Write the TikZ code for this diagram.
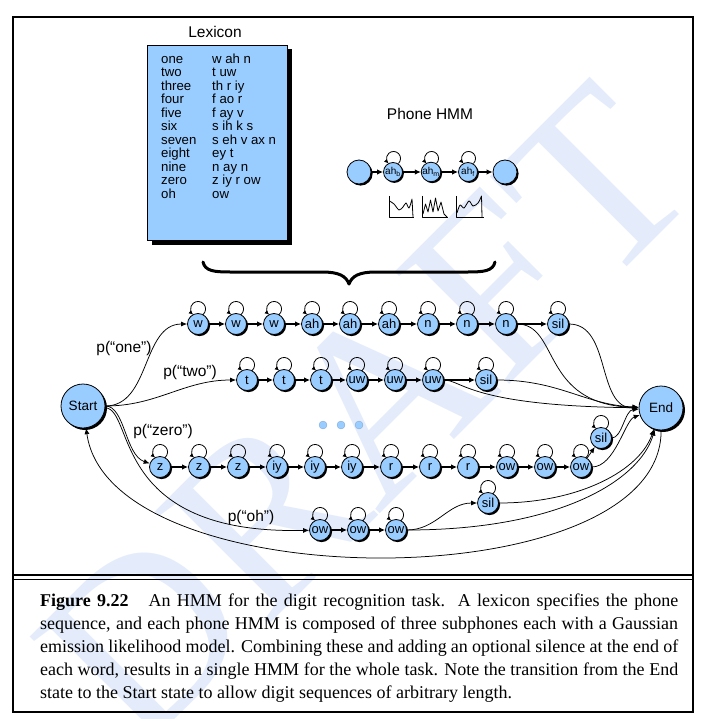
\documentclass[tikz,border=0pt]{standalone}
\usepackage{fontspec}
\setmainfont{Liberation Serif}
\setsansfont{Liberation Sans}
\usetikzlibrary{arrows.meta,shadows}

\definecolor{hmmblue}{RGB}{153,204,255}
\definecolor{draftblue}{RGB}{228,236,251}

\begin{document}
\begin{tikzpicture}[x=1pt,y=1pt,
  every node/.style={inner sep=0pt},
  sf/.style={font=\sffamily\fontsize{#1}{#1}\selectfont},
  blackshadow/.style={drop shadow={shadow xshift=#1,shadow yshift=-#1,opacity=1,fill=black}},
  stbase/.style={circle, draw=black, line width=0.8pt, fill=hmmblue},
  st/.style={stbase, minimum size=21pt, sf=13, blackshadow=1.6pt},
  sub/.style={stbase, minimum size=19pt, sf=10, blackshadow=1.4pt},
  ends/.style={stbase, minimum size=24pt, blackshadow=1.6pt},
  big/.style={stbase, minimum size=44pt, sf=13.5, blackshadow=2pt},
  lbl/.style={sf=15.5},
  lex/.style={sf=13.2, anchor=base west},
  selfloop/.style={-{Latex[length=4.5pt,width=4pt]}, line width=0.8pt},
  chain/.style={-{Latex[length=6pt,width=5.5pt]}, line width=1.5pt},
  link/.style={-{Latex[length=6pt,width=5pt]}, line width=0.75pt},
  icon/.style={line width=0.8pt, line join=round}
]
\useasboundingbox (0,0) rectangle (708,-719);

% watermark
\node[text=draftblue, rotate=45, font=\fontsize{245}{245}\selectfont] (draft) at (365,-415) {DRAFT};

% frame and caption divider
\draw[line width=2pt] (13,-17) rectangle (693,-712);
\draw[line width=2.2pt] (13,-575) -- (693,-575);
\draw[line width=1.2pt] (13,-579.5) -- (693,-579.5);

% ---------- lexicon ----------
\node[sf=15.5] (lextitle) at (215,-32) {Lexicon};
\node[draw=black, line width=1pt, fill=hmmblue, minimum width=140pt, minimum height=195pt,
      anchor=north west, blackshadow=4pt] (lexbox) at (147,-45) {};
\foreach \w/\p [count=\i] in {one/w ah n, two/t uw, three/th r iy, four/f ao r, five/f ay v,
    six/s ih k s, seven/s eh v ax n, eight/ey t, nine/n ay n, zero/z iy r ow, oh/ow} {
  \node[lex] (lw\i) at (161,-63.5-13.5*\i+13.5) {\w};
  \node[lex] (lp\i) at (212,-63.5-13.5*\i+13.5) {\p};
}

% ---------- phone HMM ----------
\node[sf=15.5] (phtitle) at (430,-114) {Phone HMM};
\node[ends] (pa) at (359,-172) {};
\node[sub] (pb) at (393,-172) {ah\textsubscript{b}};
\node[sub] (pm) at (431,-172) {ah\textsubscript{m}};
\node[sub] (pf) at (468,-172) {ah\textsubscript{f}};
\node[ends] (pz) at (505,-172) {};
\foreach \a/\b in {pa/pb,pb/pm,pm/pf,pf/pz} \draw[chain] (\a) -- (\b);
\foreach \n in {pb,pm,pf}
  \draw[selfloop] ([shift={(5.4,8.5)}]\n.center) arc[start angle=-46, end angle=226, radius=7];

% emission densities
\draw[icon] (389,-196) -- (389,-217) -- (414,-217);
\draw[icon] plot[smooth] coordinates {(389.5,-201) (394,-204) (399,-210) (403,-207) (406,-203) (409,-208) (412,-199)} -- (413,-217);
\draw[icon] (422,-196) -- (422,-217) -- (448,-217);
\draw[icon] (423,-214) -- (425.5,-204) -- (428,-212) -- (430.5,-200) -- (433,-212) -- (435.5,-198) -- (438,-211) -- (441,-202) -- (444,-214) -- (447,-217);
\draw[icon] (456,-196) -- (456,-217) -- (484,-217);
\draw[icon] plot[smooth] coordinates {(457,-213) (460,-205) (464,-208) (469,-201) (473,-206) (478,-203) (481.5,-196)} -- (482,-217);

% brace
\draw[line width=3pt, line cap=round, line join=round]
  (203,-262) .. controls (205,-271) and (214,-272) .. (230,-272) -- (322,-272)
  .. controls (339,-272) and (346,-276) .. (349,-284)
  .. controls (352,-276) and (359,-272) .. (376,-272) -- (468,-272)
  .. controls (484,-272) and (493,-271) .. (495,-262);

% ---------- word models ----------
\node[big] (startst) at (83,-406) {Start};
\node[big] (endst) at (661,-408) {End};

% "one"
\foreach \n/\t/\x in {w1/w/198, w2/w/236, w3/w/274, ah1/ah/312, ah2/ah/350, ah3/ah/389,
                      n1/n/428, n2/n/467, n3/n/506, sa/sil/558}
  \node[st] (\n) at (\x,-324) {\t};
% "two"
\foreach \n/\t/\x in {t1/t/247, t2/t/284, t3/t/321, uw1/uw/357, uw2/uw/395, uw3/uw/433, sb/sil/486}
  \node[st] (\n) at (\x,-380) {\t};
% "zero"
\foreach \n/\t/\x in {z1/z/160, z2/z/199, z3/z/238, iy1/iy/277, iy2/iy/315, iy3/iy/352,
                      r1/r/391, r2/r/430, r3/r/468, ow1/ow/507, ow2/ow/545, ow3/ow/581}
  \node[st] (\n) at (\x,-467) {\t};
\node[st] (sc) at (601,-438) {sil};
% "oh"
\foreach \n/\t/\x in {o1/ow/320, o2/ow/358, o3/ow/396}
  \node[st] (\n) at (\x,-530) {\t};
\node[st] (sd) at (488,-503) {sil};

% remaining words
\foreach \n/\x in {d1/323, d2/341, d3/359}
  \node[circle, fill=hmmblue, draw=hmmblue!80!black, line width=0.3pt, minimum size=8pt] (\n) at (\x,-425) {};

% left-to-right transitions
\foreach \a/\b in {w1/w2, w2/w3, w3/ah1, ah1/ah2, ah2/ah3, ah3/n1, n1/n2, n2/n3, n3/sa,
                   t1/t2, t2/t3, t3/uw1, uw1/uw2, uw2/uw3, uw3/sb,
                   z1/z2, z2/z3, z3/iy1, iy1/iy2, iy2/iy3, iy3/r1, r1/r2, r2/r3, r3/ow1, ow1/ow2, ow2/ow3,
                   o1/o2, o2/o3}
  \draw[chain] (\a) -- (\b);

% self loops
\foreach \n in {w1,w2,w3,ah1,ah2,ah3,n1,n2,n3,sa,t1,t2,t3,uw1,uw2,uw3,sb,
                z1,z2,z3,iy1,iy2,iy3,r1,r2,r3,ow1,ow2,ow3,sc,o1,o2,o3,sd}
  \draw[selfloop] ([shift={(4.9,9.3)}]\n.center) arc[start angle=-50, end angle=230, radius=7.5];

% word entry from Start
\draw[link] (startst) to[out=0,in=180] (w1);
\draw[link] (startst) to[out=0,in=180] (t1);
\draw[link] (startst) .. controls (125,-406) and (125,-455) .. (z1);
\draw[link] (startst) .. controls (135,-410) and (110,-535) .. (o1);
\node[lbl] (pone) at (124,-348) {p(“one”)};
\node[lbl] (ptwo) at (190,-372) {p(“two”)};
\node[lbl] (pzero) at (163,-431) {p(“zero”)};
\node[lbl] (poh) at (251,-517) {p(“oh”)};

% word exits into End
\draw[link] (n3) .. controls (560,-324) and (540,-405) .. (endst);
\draw[link] (sa) to[out=0,in=180] (endst);
\draw[link] (uw3) .. controls (462,-380) and (470,-406) .. (endst);
\draw[link] (sb) .. controls (560,-380) and (585,-405) .. (endst);
\draw[link] (ow3) -- (sc);
\draw[link] (ow3) .. controls (615,-467) and (625,-420) .. (endst);
\draw[link] (sc) .. controls (622,-438) and (625,-410) .. (endst);
\draw[link] (o3) to[out=0,in=180] (sd);
\draw[link] (o3) .. controls (560,-530) and (640,-480) .. (endst);
\draw[link] (sd) .. controls (580,-503) and (640,-470) .. (endst);

% loop back for digit sequences
\draw[link] (endst) .. controls (662,-600) and (110,-600) .. (startst);

% caption
\node[anchor=north west, text width=638pt, align=justify,
      font=\fontsize{18}{23}\selectfont] (caption) at (40,-594)
{\textbf{Figure 9.22}\hspace{1.1em}An HMM for the digit recognition task.\ \ A lexicon specifies the phone\linebreak
sequence, and each phone HMM is composed of three subphones each with a Gaussian\linebreak
emission likelihood model. Combining these and adding an optional silence at the end of\linebreak
each word, results in a single HMM for the whole task. Note the transition from the End\linebreak
state to the Start state to allow digit sequences of arbitrary length.};
\end{tikzpicture}
\end{document}
